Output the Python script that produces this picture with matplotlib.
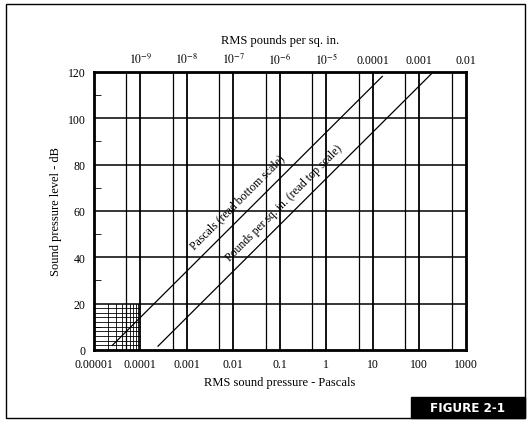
import numpy as np
import matplotlib
matplotlib.use("Agg")
import matplotlib.pyplot as plt
from matplotlib.patches import Rectangle

plt.rcParams['font.family'] = ['Liberation Serif', 'DejaVu Serif']
plt.rcParams['mathtext.fontset'] = 'stix'

bottom_ticks = [1e-5, 1e-4, 1e-3, 1e-2, 1e-1, 1, 10, 100, 1000]
bottom_labels = ['0.00001', '0.0001', '0.001', '0.01', '0.1', '1', '10', '100', '1000']
top_ticks = [1e-4, 1e-3, 1e-2, 1e-1, 1, 10, 100, 1000]
top_labels = [r'$10^{-9}$', r'$10^{-8}$', r'$10^{-7}$', r'$10^{-6}$', r'$10^{-5}$', '0.0001', '0.001', '0.01']
top_grid = [5e-5, 5e-4, 5e-3, 5e-2, 0.5, 5, 50, 500]
y_ticks = [0, 20, 40, 60, 80, 100, 120]
pa_x = [2.5e-5, 16]
psi_x = [2.4e-4, 180]
pa_ref = 2e-5
psi_ref = 2.0e-4

fig = plt.figure(figsize=(5.3, 4.31), dpi=100)
fig.patches.append(Rectangle((0.012, 0.028), 0.978, 0.96, transform=fig.transFigure,
                             fill=False, lw=1.0, ec='black'))
fig.patches.append(Rectangle((0.775, 0.028), 0.215, 0.048, transform=fig.transFigure,
                             fc='black', ec='black'))
fig.text(0.882, 0.052, 'FIGURE 2-1', color='white', fontsize=9.5, fontweight='bold',
         family='DejaVu Sans', ha='center', va='center', stretch='condensed')

ax = fig.add_axes([0.177, 0.186, 0.702, 0.645])
ax.set_xscale('log')
ax.set_xlim(1e-5, 1000)
ax.set_ylim(0, 120)
for s in ax.spines.values():
    s.set_linewidth(2)

for x in bottom_ticks[1:-1]:
    ax.axvline(x, color='black', lw=1.3)
for x in top_grid:
    ax.axvline(x, color='black', lw=0.9)
for y in y_ticks[1:-1]:
    ax.axhline(y, color='black', lw=1.1)
for m in range(2, 10):
    ax.plot([m * 1e-5, m * 1e-5], [0, 20], color='black', lw=0.6)
for yy in range(2, 20, 2):
    ax.plot([1e-5, 1e-4], [yy, yy], color='black', lw=0.6)

xs = np.array(pa_x)
ax.plot(xs, 20 * np.log10(xs / pa_ref), color='black', lw=0.9)
xs2 = np.array(psi_x)
ax.plot(xs2, 20 * np.log10(xs2 / psi_ref), color='black', lw=0.9)

ax.text(0.015, 20 * np.log10(0.015 / pa_ref) + 4.5, 'Pascals (read bottom scale)', rotation=45,
        rotation_mode='anchor', ha='center', va='bottom', fontsize=8.5)
ax.text(0.15, 20 * np.log10(0.15 / psi_ref) + 4.5, 'Pounds per sq. in. (read top scale)', rotation=45,
        rotation_mode='anchor', ha='center', va='bottom', fontsize=8.5)

ax.set_xticks(bottom_ticks)
ax.set_xticklabels(bottom_labels, fontsize=8.5)
ax.xaxis.set_minor_locator(matplotlib.ticker.NullLocator())
ax.set_yticks(y_ticks)
ax.set_yticklabels([str(v) for v in y_ticks], fontsize=8.5)
ax.set_yticks([10, 30, 50, 70, 90, 110], minor=True)
ax.tick_params(axis='y', which='minor', direction='in', length=5)
ax.tick_params(axis='both', which='major', length=0, pad=6)
ax.set_xlabel('RMS sound pressure - Pascals', fontsize=9)
ax.set_ylabel('Sound pressure level - dB', fontsize=9)

top = ax.twiny()
top.set_xscale('log')
top.set_xlim(ax.get_xlim())
top.set_xticks(top_ticks)
top.set_xticklabels(top_labels, fontsize=8.5)
top.xaxis.set_minor_locator(matplotlib.ticker.NullLocator())
top.tick_params(length=0, pad=4)
top.set_xlabel('RMS pounds per sq. in.', fontsize=9, labelpad=6)

fig.savefig('out.png', dpi=100)
